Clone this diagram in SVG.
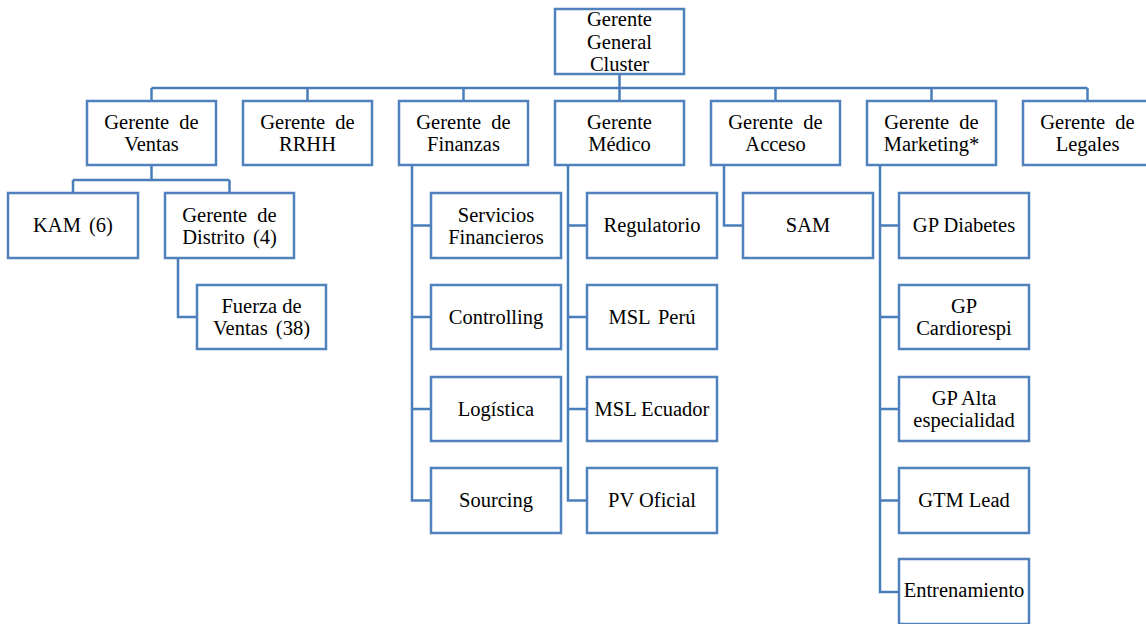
<svg xmlns="http://www.w3.org/2000/svg" width="1146" height="624" viewBox="0 0 1146 624">
<style>
.box{fill:#fff;stroke:#4F81BD;stroke-width:2.5}
.c{fill:none;stroke:#4A7EBB;stroke-width:2.5}
.t text{font-size:20.5px;fill:#000;text-anchor:middle}
</style>
<rect width="1146" height="624" fill="#fff"/>
<g id="connectors">
<path class="c" d="M619.5 74V88M151.5 88H1087.5M151.5 88V101M307.5 88V101M463.5 88V101M619.5 88V101M775.5 88V101M931.5 88V101M1087.5 88V101"/>
<path class="c" d="M151.5 165V180M73 180H229.5M73 180V193M229.5 180V193"/>
<path class="c" d="M178 258V317H197"/>
<path class="c" d="M412 165V500.5H431M412 225.5H431M412 317H431M412 409H431"/>
<path class="c" d="M568 165V500.5H587M568 225.5H587M568 317H587M568 409H587"/>
<path class="c" d="M724 165V225.5H743"/>
<path class="c" d="M880 165V592H899M880 225.5H899M880 317H899M880 409H899M880 500.5H899"/>
</g>
<g class="t" font-family="Liberation Serif, Times New Roman, DejaVu Serif, serif">
<g id="n-general"><rect class="box" x="555" y="9" width="129" height="65"/><text x="619.5" y="26">Gerente</text><text x="619.5" y="48.5">General</text><text x="619.5" y="71">Cluster</text></g>
<g id="n-ventas"><rect class="box" x="87" y="101" width="129" height="64"/><text x="151.5" y="129" word-spacing="5">Gerente de</text><text x="151.5" y="151">Ventas</text></g>
<g id="n-rrhh"><rect class="box" x="243" y="101" width="129" height="64"/><text x="307.5" y="129" word-spacing="5">Gerente de</text><text x="307.5" y="151">RRHH</text></g>
<g id="n-finanzas"><rect class="box" x="399" y="101" width="129" height="64"/><text x="463.5" y="129" word-spacing="5">Gerente de</text><text x="463.5" y="151">Finanzas</text></g>
<g id="n-medico"><rect class="box" x="555" y="101" width="129" height="64"/><text x="619.5" y="129">Gerente</text><text x="619.5" y="151">Médico</text></g>
<g id="n-acceso"><rect class="box" x="711" y="101" width="129" height="64"/><text x="775.5" y="129" word-spacing="5">Gerente de</text><text x="775.5" y="151">Acceso</text></g>
<g id="n-marketing"><rect class="box" x="867" y="101" width="129" height="64"/><text x="931.5" y="129" word-spacing="5">Gerente de</text><text x="931.5" y="151">Marketing*</text></g>
<g id="n-legales"><rect class="box" x="1023" y="101" width="129" height="64"/><text x="1087.5" y="129" word-spacing="5">Gerente de</text><text x="1087.5" y="151">Legales</text></g>
<g id="n-kam"><rect class="box" x="8" y="193" width="130" height="65"/><text x="73" y="232" word-spacing="3">KAM (6)</text></g>
<g id="n-distrito"><rect class="box" x="165" y="193" width="129" height="65"/><text x="229.5" y="221.5" word-spacing="5">Gerente de</text><text x="229.5" y="243.5" word-spacing="3">Distrito (4)</text></g>
<g id="n-fuerza"><rect class="box" x="197" y="285" width="129" height="64"/><text x="261.5" y="313">Fuerza de</text><text x="261.5" y="335" word-spacing="3">Ventas (38)</text></g>
<g id="n-servicios"><rect class="box" x="431" y="193" width="130" height="65"/><text x="496" y="221.5">Servicios</text><text x="496" y="243.5">Financieros</text></g>
<g id="n-controlling"><rect class="box" x="431" y="285" width="130" height="64"/><text x="496" y="323.5">Controlling</text></g>
<g id="n-logistica"><rect class="box" x="431" y="377" width="130" height="64"/><text x="496" y="415.5">Logística</text></g>
<g id="n-sourcing"><rect class="box" x="431" y="468" width="130" height="65"/><text x="496" y="507">Sourcing</text></g>
<g id="n-regulatorio"><rect class="box" x="587" y="193" width="130" height="65"/><text x="652" y="232">Regulatorio</text></g>
<g id="n-mslperu"><rect class="box" x="587" y="285" width="130" height="64"/><text x="652" y="323.5" word-spacing="3">MSL Perú</text></g>
<g id="n-mslecuador"><rect class="box" x="587" y="377" width="130" height="64"/><text x="652" y="415.5">MSL Ecuador</text></g>
<g id="n-pvoficial"><rect class="box" x="587" y="468" width="130" height="65"/><text x="652" y="507">PV Oficial</text></g>
<g id="n-sam"><rect class="box" x="743" y="193" width="130" height="65"/><text x="808" y="232">SAM</text></g>
<g id="n-diabetes"><rect class="box" x="899" y="193" width="130" height="65"/><text x="964" y="232">GP Diabetes</text></g>
<g id="n-cardio"><rect class="box" x="899" y="285" width="130" height="64"/><text x="964" y="313">GP</text><text x="964" y="335">Cardiorespi</text></g>
<g id="n-alta"><rect class="box" x="899" y="377" width="130" height="64"/><text x="964" y="405">GP Alta</text><text x="964" y="427">especialidad</text></g>
<g id="n-gtm"><rect class="box" x="899" y="468" width="130" height="65"/><text x="964" y="507">GTM Lead</text></g>
<g id="n-entrenamiento"><rect class="box" x="899" y="559" width="130" height="65"/><text x="964" y="597">Entrenamiento</text></g>
</g>
</svg>
